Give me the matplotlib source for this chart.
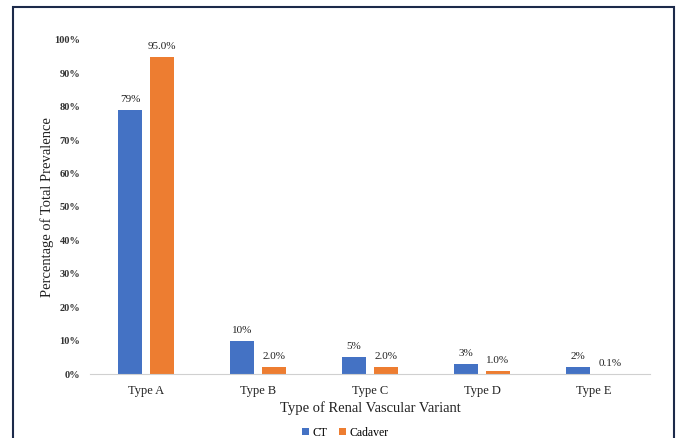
import matplotlib
matplotlib.use('Agg')
import matplotlib.pyplot as plt
from matplotlib.patches import Rectangle
import numpy as np

# data
categories = ['Type A', 'Type B', 'Type C', 'Type D', 'Type E']
ct = [79, 10, 5, 3, 2]
cadaver = [95.0, 2.0, 2.0, 1.0, 0.1]
ct_labels = ['79%', '10%', '5%', '3%', '2%']
cad_labels = ['95.0%', '2.0%', '2.0%', '1.0%', '0.1%']
yticks = [0, 10, 20, 30, 40, 50, 60, 70, 80, 90, 100]

blue = '#4472C4'
orange = '#ED7D31'

plt.rcParams['font.family'] = ['Liberation Serif', 'DejaVu Serif']

fig = plt.figure(figsize=(6.77, 4.38), dpi=100)
ax = fig.add_axes([0.133, 0.146, 0.827, 0.763])

x = np.arange(len(categories))
w = 0.22
gap = 0.065
b1 = ax.bar(x - (w + gap) / 2, ct, w, color=blue, label='CT')
b2 = ax.bar(x + (w + gap) / 2, cadaver, w, color=orange, label='Cadaver')

for bars, labs in ((b1, ct_labels), (b2, cad_labels)):
    for r, t in zip(bars, labs):
        ax.text(r.get_x() + r.get_width() / 2, r.get_height() + 1.8, t,
                ha='center', va='bottom', fontsize=8, color='#222222')

ax.set_xlim(-0.5, len(categories) - 0.5)
ax.set_ylim(0, 100)
ax.set_yticks(yticks)
ax.set_yticklabels([f'{v}%' for v in yticks], fontsize=7.5, fontweight='bold', color='#333333')
ax.set_xticks(x)
ax.set_xticklabels(categories, fontsize=9, color='#222222')
ax.tick_params(axis='both', length=0)
ax.tick_params(axis='y', pad=7)
ax.tick_params(axis='x', pad=8)

for s in ['top', 'right', 'left']:
    ax.spines[s].set_visible(False)
ax.spines['bottom'].set_color('#d0d0d0')

ax.set_xlabel('Type of Renal Vascular Variant', fontsize=10.5, color='#222222', labelpad=3)
ax.set_ylabel('Percentage of Total Prevalence', fontsize=10.5, color='#222222', labelpad=0)

fig.legend(loc='center', bbox_to_anchor=(0.51, 0.012), ncol=2, frameon=False,
           fontsize=8.5, handlelength=0.6, handleheight=0.6, handletextpad=0.3,
           columnspacing=1.0)

fig.patches.append(Rectangle((0.019, -0.2), 0.977, 1.184, transform=fig.transFigure,
                             fill=False, edgecolor='#1c2a4a', linewidth=1.5))

fig.savefig('out.png', dpi=100)
